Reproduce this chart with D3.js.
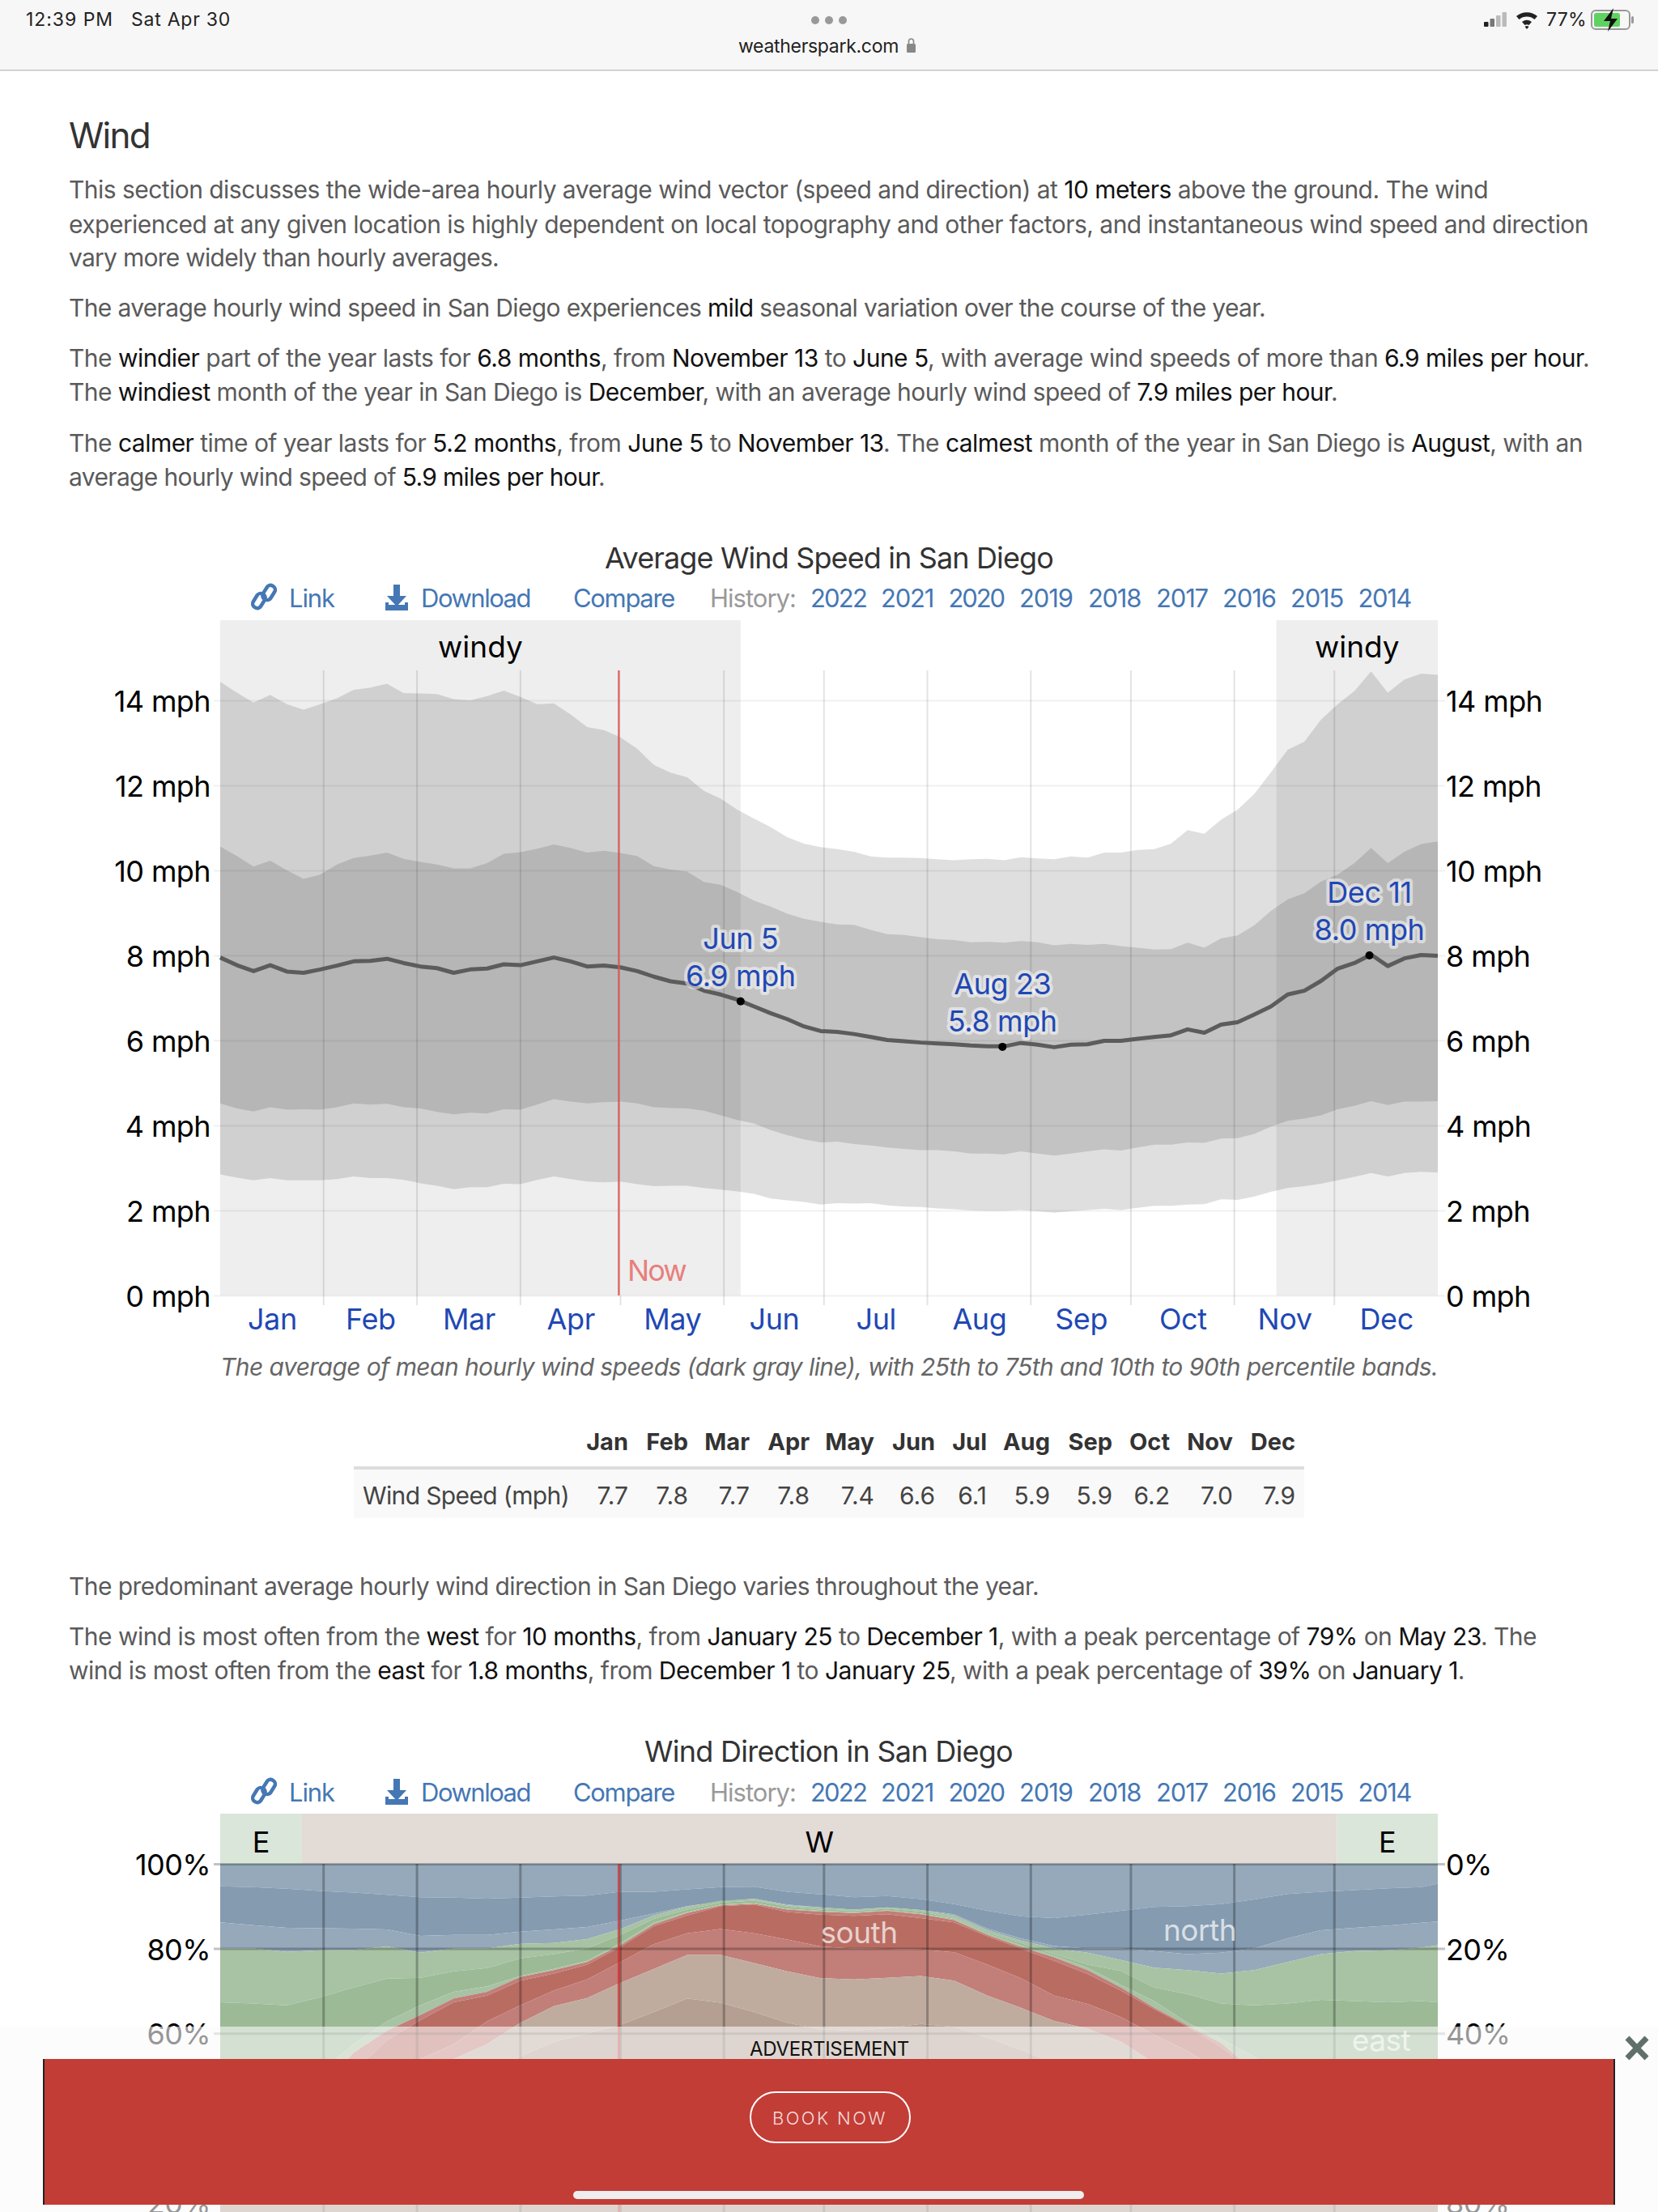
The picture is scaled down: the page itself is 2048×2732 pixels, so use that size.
<!DOCTYPE html>
<html>
<head>
<meta charset="utf-8">
<title>Wind in San Diego</title>
<script src="https://d3js.org/d3.v7.min.js"></script>
<style>
    html, body { margin: 0; padding: 0; background: #fff; }
    svg { display: block; }
    text { font-family: Inter, "Noto Sans", sans-serif; }
    .domain { display: none; }
</style>
</head>
<body>
<div id="page"></div>
<script>
// ---- data ----
const months = ['Jan', 'Feb', 'Mar', 'Apr', 'May', 'Jun', 'Jul', 'Aug', 'Sep', 'Oct', 'Nov', 'Dec'];
const monthEnds = [31, 59, 90, 120, 151, 181, 212, 243, 273, 304, 334];
const monthMids = [15.5, 45, 74.5, 105, 135.5, 166, 196.5, 227.5, 258, 288.5, 319, 349.5];

// wind speed (mph), one value every 5 days
const speedDays = d3.range(0, 366, 5);
const p90 = [14.44, 14.18, 13.95, 14.13, 13.91, 13.78, 13.91, 14.05, 14.25, 14.3, 14.39, 14.17, 14.16, 14.15, 14.03, 14.0, 14.1, 14.23, 14.08, 13.91, 13.93, 13.67, 13.37, 13.3, 13.13, 12.86, 12.48, 12.3, 12.19, 11.87, 11.69, 11.43, 11.22, 11.02, 10.78, 10.63, 10.55, 10.5, 10.44, 10.33, 10.3, 10.3, 10.29, 10.26, 10.24, 10.26, 10.27, 10.24, 10.31, 10.28, 10.26, 10.33, 10.3, 10.42, 10.42, 10.48, 10.5, 10.63, 10.95, 10.86, 11.19, 11.43, 11.8, 12.31, 12.84, 13.03, 13.55, 13.91, 14.22, 14.68, 14.18, 14.49, 14.63, 14.6];
const p75 = [10.56, 10.34, 10.09, 10.23, 10.0, 9.8, 9.9, 10.14, 10.29, 10.35, 10.42, 10.27, 10.2, 10.14, 10.05, 10.05, 10.17, 10.39, 10.43, 10.51, 10.61, 10.53, 10.42, 10.46, 10.41, 10.34, 10.1, 10.02, 9.97, 9.73, 9.66, 9.49, 9.29, 9.15, 8.98, 8.86, 8.79, 8.73, 8.72, 8.6, 8.5, 8.48, 8.43, 8.38, 8.36, 8.31, 8.32, 8.3, 8.34, 8.31, 8.24, 8.27, 8.25, 8.27, 8.22, 8.18, 8.14, 8.15, 8.3, 8.18, 8.4, 8.47, 8.71, 9.05, 9.32, 9.46, 9.74, 9.9, 10.17, 10.53, 10.17, 10.44, 10.62, 10.68];
const meanSpeed = [7.95, 7.77, 7.63, 7.77, 7.62, 7.59, 7.67, 7.76, 7.86, 7.87, 7.92, 7.82, 7.74, 7.7, 7.59, 7.67, 7.69, 7.79, 7.77, 7.86, 7.95, 7.86, 7.74, 7.76, 7.72, 7.63, 7.5, 7.39, 7.34, 7.17, 7.08, 6.96, 6.8, 6.64, 6.5, 6.33, 6.22, 6.2, 6.15, 6.08, 6.01, 5.98, 5.95, 5.93, 5.91, 5.88, 5.86, 5.86, 5.94, 5.9, 5.84, 5.9, 5.91, 5.99, 5.99, 6.04, 6.08, 6.12, 6.26, 6.18, 6.37, 6.43, 6.61, 6.8, 7.08, 7.17, 7.4, 7.69, 7.82, 8.02, 7.75, 7.93, 8.01, 7.99];
const p25 = [4.52, 4.4, 4.33, 4.43, 4.37, 4.38, 4.37, 4.43, 4.52, 4.49, 4.51, 4.43, 4.4, 4.32, 4.26, 4.3, 4.28, 4.38, 4.37, 4.49, 4.62, 4.56, 4.52, 4.55, 4.56, 4.52, 4.43, 4.41, 4.4, 4.35, 4.24, 4.13, 4.05, 3.89, 3.77, 3.67, 3.6, 3.62, 3.56, 3.53, 3.48, 3.45, 3.42, 3.42, 3.39, 3.34, 3.34, 3.32, 3.39, 3.34, 3.29, 3.34, 3.39, 3.44, 3.41, 3.48, 3.55, 3.55, 3.6, 3.59, 3.69, 3.7, 3.8, 3.97, 4.11, 4.16, 4.24, 4.38, 4.46, 4.57, 4.48, 4.56, 4.56, 4.57];
const p10 = [2.85, 2.77, 2.71, 2.76, 2.71, 2.71, 2.71, 2.74, 2.8, 2.76, 2.76, 2.72, 2.64, 2.58, 2.5, 2.55, 2.55, 2.63, 2.62, 2.72, 2.8, 2.74, 2.68, 2.66, 2.68, 2.62, 2.57, 2.58, 2.58, 2.53, 2.49, 2.45, 2.39, 2.28, 2.24, 2.2, 2.14, 2.17, 2.16, 2.17, 2.12, 2.09, 2.08, 2.05, 2.03, 2.0, 1.99, 1.99, 2.01, 1.98, 1.95, 1.98, 2.01, 2.04, 2.01, 2.06, 2.11, 2.11, 2.14, 2.15, 2.26, 2.25, 2.33, 2.44, 2.53, 2.57, 2.63, 2.71, 2.79, 2.88, 2.8, 2.88, 2.91, 2.89];

const speedTicks = [0, 2, 4, 6, 8, 10, 12, 14];
const windyRanges = [[0, 156], [316.6, 365]];
const nowDay = 119.5;
// [day, mph, date label, value label]
const speedNotes = [
    [156, 6.92, 'Jun 5', '6.9 mph'],
    [234.5, 5.85, 'Aug 23', '5.8 mph'],
    [344.5, 8.0, 'Dec 11', '8.0 mph']
];

const tableValues = ['7.7', '7.8', '7.7', '7.8', '7.4', '6.6', '6.1', '5.9', '5.9', '6.2', '7.0', '7.9'];

// wind direction: cumulative percentage at each band boundary, top of chart is 100
const dirDays = d3.range(0, 361, 10).concat([365]);
const dirEdges = [
    [94.7, 94.5, 94.1, 93.6, 93.2, 92.7, 92.1, 92.0, 91.8, 92.0, 92.3, 92.5, 93.4, 93.4, 94.0, 94.5, 94.6, 93.4, 92.8, 92.1, 92.4, 91.7, 90.5, 88.9, 87.6, 87.2, 88.0, 88.9, 89.8, 90.0, 90.5, 91.6, 92.9, 93.4, 93.8, 94.2, 94.5, 95.3],
    [86.2, 85.5, 84.9, 84.8, 84.7, 84.5, 83.0, 83.2, 83.2, 84.0, 84.5, 85.1, 86.6, 88.3, 90.0, 91.1, 91.8, 90.4, 89.7, 89.2, 89.7, 89.1, 88.1, 84.7, 82.4, 80.6, 80.0, 80.0, 79.4, 78.7, 79.0, 80.0, 82.4, 84.3, 84.9, 85.4, 86.1, 86.4],
    [80.0, 80.0, 79.2, 79.6, 79.7, 80.5, 79.0, 80.0, 80.0, 81.1, 81.3, 82.2, 84.6, 87.8, 89.9, 91.3, 91.7, 90.2, 89.7, 89.2, 89.7, 89.1, 87.8, 84.3, 81.9, 80.0, 79.0, 77.3, 75.5, 74.9, 74.1, 74.9, 76.8, 78.7, 79.4, 79.6, 80.2, 80.8],
    [67.3, 67.0, 66.6, 68.5, 70.8, 72.9, 73.1, 74.6, 75.4, 77.7, 78.7, 80.0, 83.2, 87.0, 89.2, 90.8, 91.3, 89.9, 89.2, 88.9, 89.4, 88.7, 87.2, 83.8, 81.3, 78.7, 76.2, 74.7, 70.8, 69.2, 67.0, 66.6, 67.0, 67.9, 67.6, 67.3, 67.6, 67.3],
    [37.6, 38.3, 42.1, 51.0, 57.4, 62.8, 66.6, 69.8, 71.1, 73.5, 75.2, 77.1, 81.3, 86.1, 88.6, 90.4, 90.8, 89.4, 88.9, 88.6, 89.0, 88.3, 87.0, 83.5, 80.8, 78.3, 75.5, 71.4, 67.6, 62.5, 58.7, 54.5, 49.1, 44.0, 40.2, 37.6, 37.6, 37.6],
    [33.8, 34.5, 37.6, 46.6, 55.4, 60.6, 64.3, 68.2, 69.8, 73.3, 74.9, 76.8, 80.8, 85.7, 88.4, 90.2, 90.6, 89.2, 88.7, 88.4, 88.9, 88.1, 86.7, 83.2, 80.4, 77.9, 74.9, 70.8, 66.0, 61.8, 57.7, 51.0, 45.9, 40.8, 37.6, 34.5, 33.8, 33.8],
    [32.6, 33.2, 35.1, 40.8, 51.0, 58.3, 63.1, 67.3, 68.9, 72.4, 74.1, 76.2, 80.4, 85.3, 87.8, 90.0, 90.4, 88.6, 88.0, 87.7, 88.1, 87.2, 86.2, 82.9, 80.0, 77.1, 74.0, 70.1, 65.7, 61.5, 56.8, 50.4, 44.0, 38.9, 35.1, 31.9, 31.3, 31.3],
    [29.4, 30.0, 31.3, 36.4, 44.0, 49.7, 53.9, 57.4, 62.8, 66.6, 70.1, 72.7, 76.8, 81.0, 83.6, 84.6, 83.6, 82.1, 80.5, 80.0, 79.9, 79.8, 79.1, 76.2, 73.0, 68.9, 66.9, 63.8, 59.6, 55.8, 51.0, 45.3, 38.9, 33.8, 30.6, 29.4, 29.4, 29.4],
    [24.9, 25.5, 26.8, 31.3, 37.6, 44.0, 49.7, 53.9, 57.4, 62.5, 66.4, 68.3, 71.9, 75.2, 78.5, 78.5, 76.6, 74.6, 73.0, 72.7, 73.1, 73.5, 72.4, 68.9, 66.0, 62.9, 61.1, 58.0, 52.9, 48.5, 42.7, 37.0, 31.9, 28.7, 26.2, 24.9, 24.9, 24.9],
    [20.4, 20.8, 21.7, 24.9, 30.0, 35.7, 40.8, 45.9, 50.4, 54.5, 58.0, 59.9, 62.0, 65.0, 68.2, 67.2, 65.0, 62.5, 60.9, 60.6, 61.2, 62.2, 61.5, 59.0, 56.1, 52.9, 50.4, 46.6, 40.2, 35.7, 30.6, 26.2, 22.4, 21.1, 20.4, 20.1, 20.1, 20.1]
];
const dirColors = ['#95a9bb', '#849bb0', '#95a9bb', '#a7c3a4', '#9bba95', '#a7c3a4', '#c27e78', '#b96d62', '#c27e78', '#bfac9f', '#b59f92'];
const dirTicks = [100, 80, 60, 40, 20];
// [start day, end day, letter]
const dirRanges = [[0, 24.5, 'E'], [24.5, 334.8, 'W'], [334.8, 365, 'E']];
const dirNames = [['south', 2400, 1061], ['north', 2397, 1482], ['east', 2533, 1706]];

const years = ['2022', '2021', '2020', '2019', '2018', '2017', '2016', '2015', '2014'];
const yearStarts = [1001, 1088, 1171.5, 1259, 1344, 1428, 1510, 1594, 1677.5];
const yearEnds = [1070, 1153, 1240, 1325, 1409, 1492, 1576, 1659, 1743];

// page paragraphs, the parts between | are the darker ones
const introLines = [
    ['This section discusses the wide-area hourly average wind vector (speed and direction) at |10 meters| above the ground. The wind', 245, 1838],
    ['experienced at any given location is highly dependent on local topography and other factors, and instantaneous wind speed and direction', 288, 1962],
    ['vary more widely than hourly averages.', 329, 616],
    ['The average hourly wind speed in San Diego experiences |mild| seasonal variation over the course of the year.', 391, 1563],
    ['The |windier| part of the year lasts for |6.8 months|, from |November 13| to |June 5|, with average wind speeds of more than |6.9 miles per hour|.', 453, 1963],
    ['The |windiest| month of the year in San Diego is |December|, with an average hourly wind speed of |7.9 miles per hour|.', 495, 1652],
    ['The |calmer| time of year lasts for |5.2 months|, from |June 5| to |November 13|. The |calmest| month of the year in San Diego is |August|, with an', 558, 1955],
    ['average hourly wind speed of |5.9 miles per hour|.', 600, 747],
    ['The predominant average hourly wind direction in San Diego varies throughout the year.', 1970, 1283],
    ['The wind is most often from the |west| for |10 months|, from |January 25| to |December 1|, with a peak percentage of |79%| on |May 23|. The', 2032, 1898],
    ['wind is most often from the |east| for |1.8 months|, from |December 1| to |January 25|, with a peak percentage of |39%| on |January 1|.', 2074, 1809]
];

// ---- layout ----
const WIDTH = 2048, HEIGHT = 2732;
const PLOT_LEFT = 272, PLOT_RIGHT = 1776;
const BLUE = '#1f48b4', LINK = '#4577b4';

const svg = d3.select('#page').append('svg')
    .attr('width', WIDTH)
    .attr('height', HEIGHT);

svg.append('rect').attr('width', WIDTH).attr('height', HEIGHT).attr('fill', '#fff');

const xScale = d3.scaleLinear().domain([0, 365]).range([PLOT_LEFT, PLOT_RIGHT]);

// squeeze or spread a line of text so it ends where it should
function fitText(sel, x0, x1) {
    sel.each(function() {
        const len = this.getComputedTextLength();
        const n = this.textContent.length;
        d3.select(this).attr('letter-spacing', (x1 - x0 - len) / n);
    });
    return sel;
}

function addText(parent, str, x, y, size, color, anchor) {
    return parent.append('text')
        .attr('x', x)
        .attr('y', y)
        .attr('font-size', size)
        .attr('fill', color)
        .attr('text-anchor', anchor || 'start')
        .text(str);
}

// axis labels share one look
function styleTickText(g, x) {
    g.selectAll('.tick text')
        .attr('x', x)
        .attr('dy', 13.5)
        .attr('font-size', 36)
        .attr('letter-spacing', -0.6)
        .attr('fill', '#000')
        .attr('font-family', 'Inter');
}

// ---- paragraphs ----
const textLayer = svg.append('g');
addText(textLayer, 'Wind', 85, 183, 44, '#333').call(fitText, 85, 185);

introLines.forEach(([str, y, x1]) => {
    const t = textLayer.append('text').attr('x', 85).attr('y', y).attr('font-size', 30);
    str.split('|').forEach((part, i) => {
        t.append('tspan').attr('fill', i % 2 ? '#111' : '#5a5a5a').text(part);
    });
    fitText(t, 85, x1);
});

// ---- the Link / Download / Compare / History row ----
function linkRow(y) {
    const row = svg.append('g');
    // chain icon
    const chain = row.append('g')
        .attr('transform', `translate(326,${y - 13}) rotate(-58)`)
        .attr('fill', 'none').attr('stroke', LINK).attr('stroke-width', 4.5);
    chain.append('rect').attr('x', -17).attr('y', -8).attr('width', 19).attr('height', 11).attr('rx', 5);
    chain.append('rect').attr('x', -2).attr('y', -3).attr('width', 19).attr('height', 11).attr('rx', 5);
    // download icon
    row.append('path')
        .attr('fill', LINK)
        .attr('d', `M486,${y - 28}h8v14h8l-12,13l-12,-13h8z M476,${y - 6}h4v3h20v-3h4v10h-28z`);

    addText(row, 'Link', 357, y, 31, LINK).call(fitText, 357, 413);
    addText(row, 'Download', 520, y, 31, LINK).call(fitText, 520, 655);
    addText(row, 'Compare', 708, y, 31, LINK).call(fitText, 708, 833);
    addText(row, 'History:', 877, y, 31, '#999').call(fitText, 877, 983);
    row.selectAll('.year')
        .data(years)
        .enter().append('text')
        .attr('class', 'year')
        .attr('x', (d, i) => yearStarts[i])
        .attr('y', y)
        .attr('font-size', 31)
        .attr('fill', LINK)
        .text(d => d)
        .each(function(d, i) { fitText(d3.select(this), yearStarts[i], yearEnds[i]); });
}

// ---- wind speed chart ----
const speedY = d3.scaleLinear().domain([0, 14]).range([1600, 865]);
const speedRows = speedDays.map((d, i) => ({ day: d, p90: p90[i], p75: p75[i], mean: meanSpeed[i], p25: p25[i], p10: p10[i] }));

addText(svg, 'Average Wind Speed in San Diego', 747, 702, 36, '#333').call(fitText, 747, 1301);
linkRow(750);

const speedChart = svg.append('g');

speedChart.selectAll('.windy')
    .data(windyRanges)
    .enter().append('rect')
    .attr('class', 'windy')
    .attr('x', d => xScale(d[0]))
    .attr('width', d => xScale(d[1]) - xScale(d[0]))
    .attr('y', 766)
    .attr('height', 1600 - 766)
    .attr('fill', '#eee');

speedChart.selectAll('.windy-label')
    .data(windyRanges)
    .enter().append('text')
    .attr('class', 'windy-label')
    .attr('x', d => (xScale(d[0]) + xScale(d[1])) / 2)
    .attr('y', 812)
    .attr('text-anchor', 'middle')
    .attr('font-size', 37)
    .attr('fill', '#000')
    .text('windy');

const band = (lo, hi) => d3.area()
    .x(d => xScale(d.day))
    .y0(d => speedY(d[lo]))
    .y1(d => speedY(d[hi]));

speedChart.append('path').datum(speedRows).attr('d', band('p10', 'p90')).attr('fill', '#000').attr('fill-opacity', 0.125);
speedChart.append('path').datum(speedRows).attr('d', band('p25', 'p75')).attr('fill', '#000').attr('fill-opacity', 0.125);

// left axis carries the full width gridlines
speedChart.append('g')
    .attr('transform', `translate(${PLOT_LEFT},0)`)
    .call(d3.axisLeft(speedY).tickValues(speedTicks).tickFormat(d => d + ' mph'))
    .call(g => g.selectAll('.tick line')
        .attr('x1', -8).attr('x2', PLOT_RIGHT - PLOT_LEFT + 9)
        .attr('stroke', '#000').attr('stroke-opacity', 0.06).attr('stroke-width', 2))
    .call(styleTickText, -12);

speedChart.append('g')
    .attr('transform', `translate(${PLOT_RIGHT},0)`)
    .call(d3.axisRight(speedY).tickValues(speedTicks).tickFormat(d => d + ' mph'))
    .call(g => g.selectAll('.tick line').remove())
    .call(styleTickText, 10);

// month lines and labels, the end of April sits under the now line so only its tick shows
speedChart.selectAll('.month-line')
    .data(monthEnds)
    .enter().append('line')
    .attr('class', 'month-line')
    .attr('x1', d => xScale(d)).attr('x2', d => xScale(d))
    .attr('y1', d => d === 120 ? 1600 : 828).attr('y2', 1612)
    .attr('stroke', '#000').attr('stroke-opacity', 0.11).attr('stroke-width', 2);

speedChart.append('g')
    .attr('transform', 'translate(0,1600)')
    .call(d3.axisBottom(xScale).tickValues(monthMids).tickSize(0).tickFormat((d, i) => months[i]))
    .call(g => g.selectAll('.tick text')
        .attr('font-size', 36).attr('letter-spacing', -0.4).attr('fill', BLUE).attr('font-family', 'Inter').attr('dy', 0).attr('y', 42));

// mean line
speedChart.append('path')
    .datum(speedRows)
    .attr('d', d3.line().x(d => xScale(d.day)).y(d => speedY(d.mean)))
    .attr('fill', 'none')
    .attr('stroke', '#5c5c5c')
    .attr('stroke-width', 5)
    .attr('stroke-linejoin', 'round');

// now line
speedChart.append('line')
    .attr('x1', xScale(nowDay)).attr('x2', xScale(nowDay))
    .attr('y1', 828).attr('y2', 1600)
    .attr('stroke', '#d9534f').attr('stroke-opacity', 0.85).attr('stroke-width', 2.5);
addText(speedChart, 'Now', 775, 1582, 36, '#e77f7c').call(fitText, 775, 847);

// min and max notes
speedChart.selectAll('.note-dot')
    .data(speedNotes)
    .enter().append('circle')
    .attr('class', 'note-dot')
    .attr('cx', d => xScale(d[0]))
    .attr('cy', d => speedY(d[1]))
    .attr('r', 5)
    .attr('fill', '#000');

speedNotes.forEach(d => {
    const cx = xScale(d[0]), cy = speedY(d[1]);
    [[d[2], cy - 65], [d[3], cy - 19]].forEach(([str, y]) => {
        addText(speedChart, str, cx, y, 36, BLUE, 'middle')
            .attr('letter-spacing', -0.4)
            .attr('stroke', '#fff').attr('stroke-opacity', 0.5).attr('stroke-width', 8)
            .attr('paint-order', 'stroke').attr('stroke-linejoin', 'round');
    });
});

addText(svg, 'The average of mean hourly wind speeds (dark gray line), with 25th to 75th and 10th to 90th percentile bands.', 272, 1699, 30, '#666')
    .attr('font-style', 'italic')
    .call(fitText, 272, 1776);

// ---- monthly table ----
const tableEnds = [776, 850, 926, 1000, 1080, 1155, 1219, 1297, 1374, 1445, 1523, 1600];
const table = svg.append('g');
table.append('rect').attr('x', 437).attr('y', 1815).attr('width', 1174).attr('height', 60).attr('fill', '#f9f9f9');
table.append('rect').attr('x', 437).attr('y', 1811).attr('width', 1174).attr('height', 4).attr('fill', '#ddd');
addText(table, 'Wind Speed (mph)', 448, 1858, 30, '#444').call(fitText, 448, 703);
table.selectAll('.head')
    .data(months)
    .enter().append('text')
    .attr('class', 'head')
    .attr('x', (d, i) => tableEnds[i]).attr('y', 1791)
    .attr('text-anchor', 'end')
    .attr('font-size', 29).attr('font-weight', 700).attr('fill', '#333')
    .text(d => d);
table.selectAll('.cell')
    .data(tableValues)
    .enter().append('text')
    .attr('class', 'cell')
    .attr('x', (d, i) => tableEnds[i]).attr('y', 1858)
    .attr('text-anchor', 'end')
    .attr('font-size', 30).attr('fill', '#444')
    .text(d => d);

// ---- wind direction chart ----
const dirY = d3.scaleLinear().domain([0, 100]).range([2825, 2302]);

addText(svg, 'Wind Direction in San Diego', 796, 2176, 36, '#333').call(fitText, 796, 1251);
linkRow(2225);

const dirChart = svg.append('g');

dirChart.selectAll('.dir-range')
    .data(dirRanges)
    .enter().append('rect')
    .attr('class', 'dir-range')
    .attr('x', d => xScale(d[0]))
    .attr('width', d => xScale(d[1]) - xScale(d[0]))
    .attr('y', 2240)
    .attr('height', 62)
    .attr('fill', d => d[2] === 'E' ? '#d9e6d9' : '#e3dbd6');

dirChart.selectAll('.dir-letter')
    .data(dirRanges)
    .enter().append('text')
    .attr('class', 'dir-letter')
    .attr('x', d => (xScale(d[0]) + xScale(d[1])) / 2)
    .attr('y', 2288)
    .attr('text-anchor', 'middle')
    .attr('font-size', 36)
    .attr('fill', '#000')
    .text(d => d[2]);

// bands run between neighbouring edges, first from 100 and last down to 0
const dirBounds = [dirDays.map(() => 100)].concat(dirEdges, [dirDays.map(() => 0)]);
dirColors.forEach((color, b) => {
    dirChart.append('path')
        .datum(dirDays.map((d, i) => ({ day: d, hi: dirBounds[b][i], lo: dirBounds[b + 1][i] })))
        .attr('d', d3.area().x(d => xScale(d.day)).y0(d => dirY(d.lo)).y1(d => dirY(d.hi)))
        .attr('fill', color);
});

dirChart.append('g')
    .attr('transform', `translate(${PLOT_LEFT},0)`)
    .call(d3.axisLeft(dirY).tickValues(dirTicks).tickFormat(d => d + '%'))
    .call(g => g.selectAll('.tick line')
        .attr('x1', -8).attr('x2', PLOT_RIGHT - PLOT_LEFT + 9)
        .attr('stroke', '#000').attr('stroke-opacity', 0.24).attr('stroke-width', 3))
    .call(styleTickText, -12);

dirChart.append('g')
    .attr('transform', `translate(${PLOT_RIGHT},0)`)
    .call(d3.axisRight(dirY).tickValues(dirTicks).tickFormat(d => (100 - d) + '%'))
    .call(g => g.selectAll('.tick line').remove())
    .call(styleTickText, 10);

dirChart.selectAll('.dir-month')
    .data(monthEnds)
    .enter().append('line')
    .attr('class', 'dir-month')
    .attr('x1', d => xScale(d)).attr('x2', d => xScale(d))
    .attr('y1', 2302).attr('y2', 2732)
    .attr('stroke', '#000').attr('stroke-opacity', 0.26).attr('stroke-width', 3);

dirChart.append('line')
    .attr('x1', xScale(nowDay)).attr('x2', xScale(nowDay))
    .attr('y1', 2302).attr('y2', 2732)
    .attr('stroke', '#d22b2b').attr('stroke-opacity', 0.7).attr('stroke-width', 3);

dirChart.selectAll('.dir-name')
    .data(dirNames)
    .enter().append('text')
    .attr('class', 'dir-name')
    .attr('x', d => d[2]).attr('y', d => d[1])
    .attr('text-anchor', 'middle')
    .attr('font-size', 37)
    .attr('letter-spacing', -0.5)
    .attr('fill', '#fff').attr('fill-opacity', 0.7)
    .text(d => d[0]);

// ---- browser bar ----
const bar = svg.append('g');
bar.append('rect').attr('width', WIDTH).attr('height', 86).attr('fill', '#f7f7f7');
bar.append('rect').attr('y', 86).attr('width', WIDTH).attr('height', 1.5).attr('fill', '#c4c4c4');
addText(bar, '12:39 PM', 32, 32, 23, '#222').call(fitText, 32, 140);
addText(bar, 'Sat Apr 30', 162, 32, 23, '#222').call(fitText, 162, 285);
addText(bar, 'weatherspark.com', 912, 65, 23, '#222').call(fitText, 912, 1110);
bar.selectAll('.dot').data([1007, 1024, 1041]).enter().append('circle')
    .attr('class', 'dot').attr('cx', d => d).attr('cy', 25).attr('r', 5).attr('fill', '#999');
bar.append('rect').attr('x', 1120).attr('y', 54).attr('width', 11).attr('height', 11).attr('rx', 1.5).attr('fill', '#888');
bar.append('path').attr('d', 'M1122.5,54v-3a3,3 0 0 1 6,0v3').attr('fill', 'none').attr('stroke', '#888').attr('stroke-width', 1.6);
// signal bars
bar.selectAll('.sig').data([0, 1, 2, 3]).enter().append('rect')
    .attr('class', 'sig')
    .attr('x', d => 1833 + d * 7.5).attr('y', d => 27 - d * 4)
    .attr('width', 5.5).attr('height', d => 6 + d * 4).attr('rx', 1)
    .attr('fill', d => d === 0 ? '#222' : d === 1 ? '#777' : '#bbb');
// wifi
bar.append('path').attr('d', 'M1873,20a20,20 0 0 1 26,0l-3.5,4a15,15 0 0 0 -19,0z M1880,27a10,10 0 0 1 12,0l-3.5,4a5,5 0 0 0 -5,0z M1883.5,33a4,4 0 0 1 5,0l-2.500,3z').attr('fill', '#222');
addText(bar, '77%', 1910, 32, 23, '#222').call(fitText, 1910, 1960);
// battery
bar.append('rect').attr('x', 1966).attr('y', 13).attr('width', 47).attr('height', 23).attr('rx', 5).attr('fill', 'none').attr('stroke', '#999').attr('stroke-width', 2);
bar.append('rect').attr('x', 1969).attr('y', 16).attr('width', 32).attr('height', 17).attr('rx', 2.5).attr('fill', '#5fd35f');
bar.append('rect').attr('x', 2015).attr('y', 20).attr('width', 3).attr('height', 9).attr('rx', 1.5).attr('fill', '#999');
bar.append('path').attr('d', 'M1993,10l-12,16h8l-3,13l12,-16h-8z').attr('fill', '#111');

// ---- advert over the bottom of the page ----
const ad = svg.append('g');
ad.append('rect').attr('y', 2503).attr('width', WIDTH).attr('height', HEIGHT - 2503).attr('fill', '#fafafa').attr('fill-opacity', 0.6);
addText(ad, 'ADVERTISEMENT', 926, 2539, 24, '#111').call(fitText, 926, 1123);
ad.append('rect').attr('x', 54).attr('y', 2543).attr('width', 1939).attr('height', 180).attr('fill', '#c23d36');
ad.append('rect').attr('x', 53).attr('y', 2543).attr('width', 2).attr('height', 180).attr('fill', '#222');
ad.append('rect').attr('x', 1993).attr('y', 2543).attr('width', 2).attr('height', 180).attr('fill', '#222');
ad.append('rect').attr('x', 927).attr('y', 2584).attr('width', 197).attr('height', 62).attr('rx', 31)
    .attr('fill', 'none').attr('stroke', '#fff').attr('stroke-width', 2);
addText(ad, 'BOOK NOW', 954, 2624, 22, '#f4dcda').attr('font-weight', 300).call(fitText, 954, 1096);
ad.append('rect').attr('x', 708).attr('y', 2706).attr('width', 631).attr('height', 10).attr('rx', 5).attr('fill', '#eee');
ad.append('path').attr('d', 'M2010,2517l24,25M2034,2517l-24,25').attr('stroke', '#5f706b').attr('stroke-width', 7).attr('fill', 'none');
</script>
</body>
</html>
